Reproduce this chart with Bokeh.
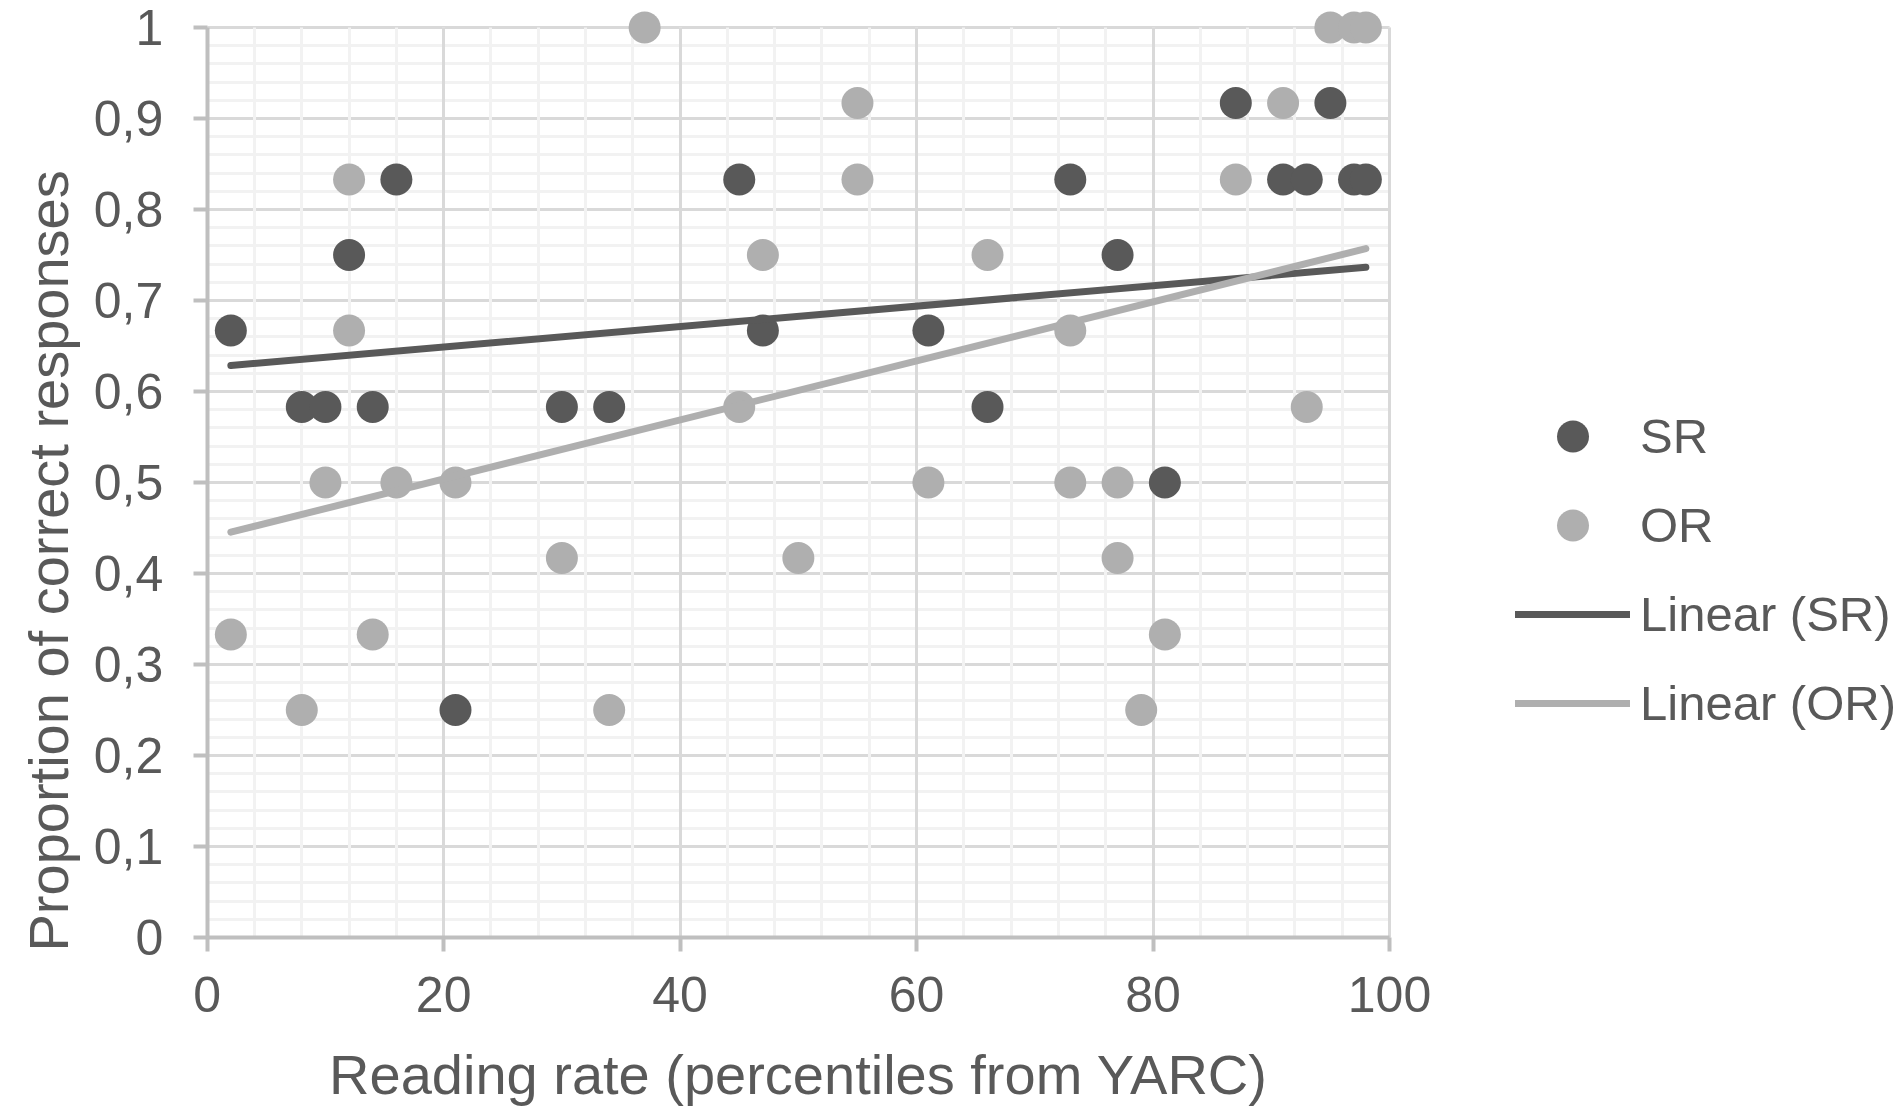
import numpy as np
from bokeh.plotting import figure
from bokeh.models import (Range1d, FixedTicker, CustomJSTickFormatter, Legend,
                          LegendItem, Label)
from bokeh.embed import file_html
from bokeh.resources import INLINE

# ---- data ----
sr_x = [2, 8, 10, 12, 14, 16, 21, 30, 34, 45, 47, 61, 66, 73, 77, 81, 87, 91, 93, 95, 97, 98]
sr_y = [0.667, 0.583, 0.583, 0.75, 0.583, 0.833, 0.25, 0.583, 0.583, 0.833, 0.667,
        0.667, 0.583, 0.833, 0.75, 0.5, 0.917, 0.833, 0.833, 0.917, 0.833, 0.833]
or_x = [2, 8, 10, 12, 12, 14, 16, 21, 30, 34, 37, 45, 47, 50, 55, 55, 61, 66, 73, 73,
        77, 77, 79, 81, 87, 91, 93, 95, 97, 98]
or_y = [0.333, 0.25, 0.5, 0.833, 0.667, 0.333, 0.5, 0.5, 0.417, 0.25, 1.0, 0.583, 0.75,
        0.417, 0.917, 0.833, 0.5, 0.75, 0.667, 0.5, 0.5, 0.417, 0.25, 0.333, 0.833,
        0.917, 0.583, 1.0, 1.0, 1.0]
trend_x = [2, 98]
sr_trend_y = [0.6286, 0.7365]
or_trend_y = [0.4454, 0.757]
x_ticks = [0, 20, 40, 60, 80, 100]
y_ticks = [0, 0.1, 0.2, 0.3, 0.4, 0.5, 0.6, 0.7, 0.8, 0.9, 1.0]

DARK = "#595959"
LIGHT = "#afafaf"
TXT = "#595959"
FONT = "Liberation Sans"

W, H = 1900, 1110
# plot area geometry (pixels)
X0_PX, XPX_PER_UNIT = 206.7, 11.823
Y0_PX, YPX_PER_UNIT = 937.0, 910.0
x_start = -X0_PX / XPX_PER_UNIT
x_end = (W - X0_PX) / XPX_PER_UNIT
y_start = -(H - Y0_PX) / YPX_PER_UNIT
y_end = Y0_PX / YPX_PER_UNIT

p = figure(width=W, height=H, output_backend="svg", toolbar_location=None,
           x_range=Range1d(x_start, x_end), y_range=Range1d(y_start, y_end),
           min_border_left=0, min_border_right=0, min_border_top=0,
           min_border_bottom=0)
p.outline_line_color = None
p.background_fill_color = "white"
p.border_fill_color = "white"

# axes (fixed at the data origin)
for ax in (p.xaxis, p.yaxis):
    ax.fixed_location = 0
    ax.axis_line_color = "#bfbfbf"
    ax.axis_line_width = 4
    ax.major_tick_line_color = "#bfbfbf"
    ax.major_tick_line_width = 4
    ax.major_tick_in = 0
    ax.major_tick_out = 14
    ax.minor_tick_line_color = None
    ax.minor_tick_in = 0
    ax.minor_tick_out = 0
    ax.major_label_text_font = FONT
    ax.major_label_text_font_size = "50px"
    ax.major_label_text_color = TXT
    ax.axis_label_text_font = FONT
    ax.axis_label_text_font_style = "normal"
    ax.axis_label_text_font_size = "56px"
    ax.axis_label_text_color = TXT

p.xaxis.ticker = FixedTicker(ticks=x_ticks, minor_ticks=list(range(0, 101, 4)))
p.yaxis.ticker = FixedTicker(ticks=y_ticks, minor_ticks=[i / 50 for i in range(51)])
p.xaxis.bounds = (0, 100)
p.yaxis.bounds = (0, 1)
p.xaxis.major_label_standoff = 25
p.yaxis.major_label_standoff = 30
p.yaxis.formatter = CustomJSTickFormatter(code="""
if (Math.abs(tick) < 1e-9) return '0';
if (Math.abs(tick - 1) < 1e-9) return '1';
return tick.toFixed(1).replace('.', ',');
""")
p.xaxis.axis_label = "Reading rate (percentiles from YARC)"
p.xaxis.axis_label_standoff = 28

# grids: horizontal first, vertical lines drawn over them
xg, yg = p.xgrid[0], p.ygrid[0]
for g in (xg, yg):
    g.grid_line_color = "#d9d9d9"
    g.grid_line_width = 3
    g.minor_grid_line_color = "#f2f2f2"
    g.minor_grid_line_width = 3
xg.bounds = (0, 100)
xg.cross_bounds = (0, 1)
yg.bounds = (0, 1)
yg.cross_bounds = (0, 100)
p.center = [yg, xg] + [r for r in p.center if r is not xg and r is not yg]

# data
r_sr = p.scatter(sr_x, sr_y, size=32, color=DARK, line_color=None)
r_or = p.scatter(or_x, or_y, size=32, color=LIGHT, line_color=None)
r_lsr = p.line(trend_x, sr_trend_y, line_color=DARK, line_width=7, line_cap="round")
r_lor = p.line(trend_x, or_trend_y, line_color=LIGHT, line_width=7, line_cap="round")

legend = Legend(items=[
    LegendItem(label="SR", renderers=[r_sr]),
    LegendItem(label="OR", renderers=[r_or]),
    LegendItem(label="Linear (SR)", renderers=[r_lsr]),
    LegendItem(label="Linear (OR)", renderers=[r_lor]),
], location=(1515, 367), glyph_width=115, glyph_height=80, spacing=9,
    label_standoff=10, padding=0, margin=0, border_line_color=None,
    background_fill_alpha=0, label_text_font=FONT, label_text_font_size="49px",
    label_text_color=TXT, label_height=80)
p.add_layout(legend, "center")

ytitle = Label(x=48, y=H - 951, x_units="screen", y_units="screen",
               text="Proportion of correct responses", angle=np.pi / 2,
               text_align="left", text_baseline="alphabetic", text_font=FONT,
               text_font_size="56px", text_color=TXT)
p.add_layout(ytitle)

open("out.html", "w").write(file_html(p, INLINE))
